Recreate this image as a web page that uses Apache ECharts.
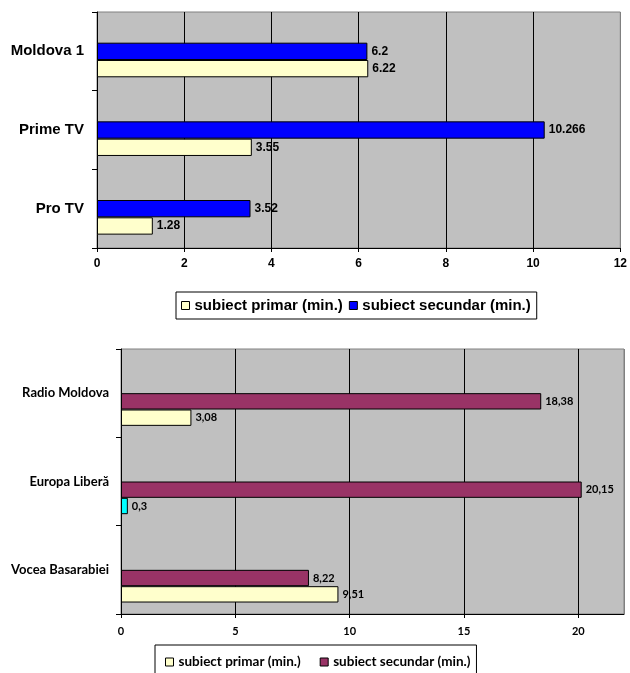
<!DOCTYPE html>
<html>
<head>
<meta charset="utf-8">
<script src="https://cdn.jsdelivr.net/npm/echarts@6/dist/echarts.min.js"></script>
<style>
  html, body { margin: 0; padding: 0; background: #fff; }
  #myChart { width: 630px; height: 673px; }
</style>
</head>
<body>
<div id="myChart"></div>
<script>
var tvCategories = ['Moldova 1', 'Prime TV', 'Pro TV'];
var tvPrimar = [6.22, 3.55, 1.28];
var tvSecundar = [6.2, 10.266, 3.52];
var tvTicks = [0, 2, 4, 6, 8, 10, 12];

var radioCategories = ['Radio Moldova', 'Europa Liberă', 'Vocea Basarabiei'];
var radioPrimar = [3.08, 0.3, 9.51];
var radioSecundar = [18.38, 20.15, 8.22];
var radioTicks = [0, 5, 10, 15, 20];

var seriesNames = ['subiect primar (min.)', 'subiect secundar (min.)'];

window.onload = function () {
	'use strict';

	var arial = 'Liberation Sans, Arial, sans-serif';
	var calibri = 'Lato, Noto Sans, sans-serif';

	function emptyData(n) {
		var d = [];
		for (var i = 0; i < n; i++) d.push(null);
		return d;
	}

	function barSeries(name, data, color, gi, font, size, comma) {
		return {
			name: name,
			type: 'bar',
			xAxisIndex: gi,
			yAxisIndex: gi,
			data: data,
			barGap: '0%',
			barCategoryGap: gi === 0 ? '34%' : '26%',
			itemStyle: { color: color, borderColor: '#000', borderWidth: 1 },
			label: {
				show: true,
				position: 'right',
				distance: 4,
				color: '#000',
				fontFamily: font,
				fontWeight: 'bold',
				fontSize: size,
				formatter: function (p) {
					var s = String(p.value);
					return comma ? s.replace('.', ',') : s;
				}
			},
			animation: false
		};
	}

	// empty slot, the original leaves room for it above the bars
	function dummy(gi, n) {
		return {
			type: 'bar',
			xAxisIndex: gi,
			yAxisIndex: gi,
			data: emptyData(n),
			barGap: '0%',
			barCategoryGap: gi === 0 ? '34%' : '26%',
			silent: true,
			animation: false
		};
	}

	function splitColors(n) {
		var c = [];
		for (var i = 0; i < n - 1; i++) c.push('#000');
		c.push('#808080');
		return c;
	}

	// the small Europa Liberă bar is coloured differently in the original
	var radioPrimarData = radioPrimar.map(function (v, i) {
		return i === 1 ? { value: v, itemStyle: { color: '#00FFFF' } } : v;
	});

	var option = {
		backgroundColor: '#fff',
		grid: [
			{ left: 97, top: 12, width: 525, height: 236, show: true,
			  backgroundColor: '#C0C0C0', borderColor: '#808080', borderWidth: 1 },
			{ left: 121, top: 349, width: 503, height: 265, show: true,
			  backgroundColor: '#C0C0C0', borderColor: '#808080', borderWidth: 1 }
		],
		xAxis: [
			{
				type: 'value', gridIndex: 0,
				min: tvTicks[0], max: tvTicks[tvTicks.length - 1], interval: tvTicks[1] - tvTicks[0],
				axisLine: { show: true, lineStyle: { color: '#000', width: 1 } },
				axisTick: { show: true, length: 4, lineStyle: { color: '#000' } },
				axisLabel: { color: '#000', fontFamily: arial, fontWeight: 'bold', fontSize: 12, margin: 10 },
				splitLine: { show: true, lineStyle: { color: splitColors(tvTicks.length), width: 1 } }
			},
			{
				type: 'value', gridIndex: 1,
				min: 0, max: 22, interval: radioTicks[1] - radioTicks[0],
				axisLine: { show: true, lineStyle: { color: '#000', width: 1 } },
				axisTick: { show: true, length: 4, lineStyle: { color: '#000' } },
				axisLabel: { color: '#000', fontFamily: calibri, fontWeight: 'bold', fontSize: 11, margin: 12,
					showMaxLabel: false },
				splitLine: { show: true, lineStyle: { color: splitColors(radioTicks.length + 1), width: 1 } }
			}
		],
		yAxis: [
			{
				type: 'category', gridIndex: 0, inverse: true,
				data: tvCategories,
				axisLine: { show: true, lineStyle: { color: '#000' } },
				axisTick: { show: true, length: 5, lineStyle: { color: '#000' } },
				axisLabel: { color: '#000', fontFamily: arial, fontWeight: 'bold', fontSize: 15, margin: 13 }
			},
			{
				type: 'category', gridIndex: 1, inverse: true,
				data: radioCategories,
				axisLine: { show: true, lineStyle: { color: '#000' } },
				axisTick: { show: true, length: 5, lineStyle: { color: '#000' } },
				axisLabel: { color: '#000', fontFamily: calibri, fontWeight: 'bold', fontSize: 13, margin: 12 }
			}
		],
		legend: [
			{
				left: 176, top: 292,
				data: [{ name: 'tv0', icon: 'rect' }, { name: 'tv1', icon: 'rect' }],
				formatter: function (n) { return seriesNames[n === 'tv0' ? 0 : 1]; },
				itemWidth: 8, itemHeight: 8, itemGap: 6,
				padding: [6, 6, 6, 5],
				borderColor: '#000', borderWidth: 1,
				itemStyle: { borderColor: '#000', borderWidth: 1 },
				textStyle: { color: '#000', fontFamily: arial, fontWeight: 'bold', fontSize: 15 },
				selectedMode: false
			},
			{
				left: 155, top: 645,
				data: [
					{ name: 'r0', icon: 'rect', itemStyle: { color: '#FFFFCC' } },
					{ name: 'r1', icon: 'rect' }
				],
				formatter: function (n) { return seriesNames[n === 'r0' ? 0 : 1]; },
				itemWidth: 8, itemHeight: 8, itemGap: 19,
				padding: [10, 6, 10, 10],
				borderColor: '#000', borderWidth: 1,
				itemStyle: { borderColor: '#000', borderWidth: 1 },
				textStyle: { color: '#000', fontFamily: calibri, fontWeight: 'bold', fontSize: 13.5 },
				selectedMode: false
			}
		],
		series: [
			dummy(0, tvCategories.length),
			barSeries('tv1', tvSecundar, '#0000FF', 0, arial, 12, false),
			barSeries('tv0', tvPrimar, '#FFFFCC', 0, arial, 12, false),
			dummy(1, radioCategories.length),
			dummy(1, radioCategories.length),
			barSeries('r1', radioSecundar, '#993366', 1, calibri, 11, true),
			barSeries('r0', radioPrimarData, '#FFFFCC', 1, calibri, 11, true)
		]
	};

	var myChart = echarts.init(document.getElementById('myChart'));
	myChart.setOption(option);
};
</script>
</body>
</html>
